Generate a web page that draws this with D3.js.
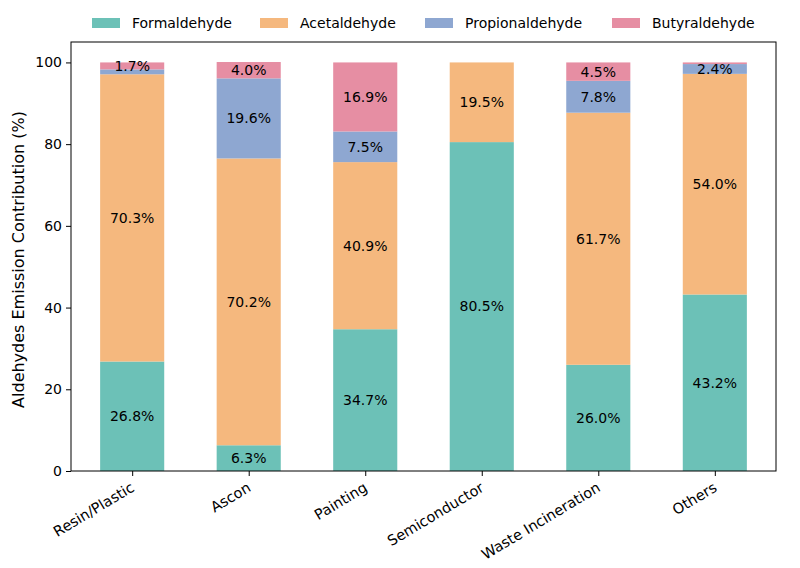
<!DOCTYPE html>
<html>
<head>
<meta charset="utf-8">
<script src="https://cdn.jsdelivr.net/npm/d3@7"></script>
<style>
  body { margin: 0; background: #fff; }
  text { font-family: "DejaVu Sans", sans-serif; }
</style>
</head>
<body>
<div id="chart"></div>
<script>
var width = 800, height = 568;
var margin = {top: 42, right: 24, bottom: 97, left: 71};

var categories = ["Resin/Plastic", "Ascon", "Painting", "Semiconductor", "Waste Incineration", "Others"];
var seriesNames = ["Formaldehyde", "Acetaldehyde", "Propionaldehyde", "Butyraldehyde"];
var formaldehyde   = [26.8, 6.3, 34.7, 80.5, 26.0, 43.2];
var acetaldehyde   = [70.3, 70.2, 40.9, 19.5, 61.7, 54.0];
var propionaldehyde = [1.2, 19.6, 7.5, 0, 7.8, 2.4];
var butyraldehyde  = [1.7, 4.0, 16.9, 0, 4.5, 0.4];
var yTicks = [0, 20, 40, 60, 80, 100];
var colors = ["#6cc1b7", "#f5b87e", "#8ea7d1", "#e68ea3"];

var rows = categories.map(function(c, i) {
    return {cat: c, Formaldehyde: formaldehyde[i], Acetaldehyde: acetaldehyde[i],
            Propionaldehyde: propionaldehyde[i], Butyraldehyde: butyraldehyde[i]};
});
var stacked = d3.stack().keys(seriesNames)(rows);

var innerW = width - margin.left - margin.right;
var innerH = height - margin.top - margin.bottom;

// mimic matplotlib xlim (-0.525, 5.525)
var xc = d3.scaleLinear().domain([-0.525, categories.length - 0.475]).range([0, innerW]);
var step = xc(1) - xc(0);
var barWidth = step * 0.55;

var y = d3.scaleLinear().domain([0, 105]).range([innerH, 0]);

var svg = d3.select("#chart").append("svg")
    .attr("width", width)
    .attr("height", height);

var g = svg.append("g")
    .attr("transform", "translate(" + margin.left + "," + margin.top + ")");

var layer = g.selectAll(".layer")
    .data(stacked)
    .enter().append("g")
    .attr("class", "layer")
    .attr("fill", function(d, i) { return colors[i]; });

layer.selectAll("rect")
    .data(function(d) { return d; })
    .enter().append("rect")
    .attr("x", function(d, i) { return xc(i) - barWidth / 2; })
    .attr("width", barWidth)
    .attr("y", function(d) { return y(d[1]); })
    .attr("height", function(d) { return y(d[0]) - y(d[1]); });

// value labels
layer.selectAll(".lbl")
    .data(function(d) { return d; })
    .enter().filter(function(d) { return d[1] - d[0] >= 1.5; })
    .append("text")
    .attr("class", "lbl")
    .attr("x", function(d) { return xc(categories.indexOf(d.data.cat)); })
    .attr("y", function(d) { return y((d[0] + d[1]) / 2); })
    .attr("dy", "0.35em")
    .attr("text-anchor", "middle")
    .attr("fill", "#000")
    .style("font-size", "14px")
    .text(function(d) { return (d[1] - d[0]).toFixed(1) + "%"; });

// axes
var yAxis = d3.axisLeft(y).tickValues(yTicks).tickSizeOuter(0).tickSize(5).tickPadding(4);
var axY = g.append("g").call(yAxis);
axY.selectAll("text").style("font-size", "14px").attr("fill", "#000");

var xAxis = d3.axisBottom(xc).tickValues(d3.range(categories.length))
    .tickFormat(function(i) { return categories[i]; })
    .tickSizeOuter(0).tickSize(5);
var axX = g.append("g").attr("transform", "translate(0," + innerH + ")").call(xAxis);
axX.selectAll("text")
    .style("font-size", "14.5px")
    .attr("fill", "#000")
    .attr("text-anchor", "end")
    .attr("x", 0).attr("y", 0)
    .attr("dy", "0.35em")
    .attr("transform", "translate(0,15) rotate(-31)");

g.selectAll(".domain").remove();
g.selectAll(".tick line").attr("stroke", "#000");

// frame
g.append("rect")
    .attr("width", innerW)
    .attr("height", innerH)
    .attr("fill", "none")
    .attr("stroke", "#000")
    .attr("stroke-width", 1);

// y label
svg.append("text")
    .attr("transform", "translate(24," + (margin.top + innerH / 2 + 3) + ") rotate(-90)")
    .attr("text-anchor", "middle")
    .style("font-size", "16px")
    .text("Aldehydes Emission Contribution (%)");

// legend
var legendX = [92, 260, 425, 612];
var leg = svg.selectAll(".leg")
    .data(seriesNames)
    .enter().append("g")
    .attr("class", "leg")
    .attr("transform", function(d, i) { return "translate(" + legendX[i] + ",18)"; });
leg.append("rect")
    .attr("width", 28).attr("height", 10)
    .attr("fill", function(d, i) { return colors[i]; });
leg.append("text")
    .attr("x", 40).attr("y", 5).attr("dy", "0.35em")
    .style("font-size", "14px")
    .text(function(d) { return d; });
</script>
</body>
</html>
